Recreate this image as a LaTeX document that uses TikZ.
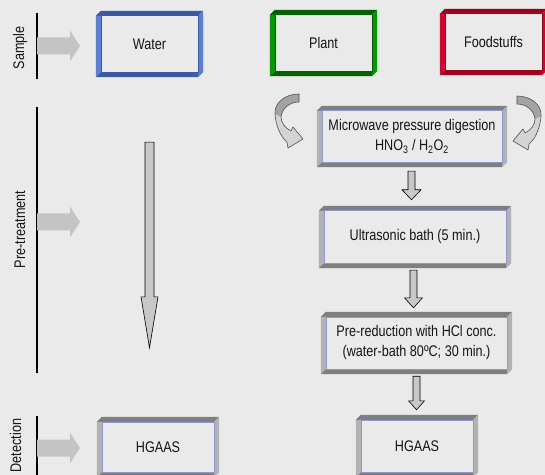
\documentclass[tikz,border=0pt]{standalone}
\usepackage{fontspec}
\setmainfont{Liberation Sans}[FakeStretch=0.82]
\usetikzlibrary{calc}
\definecolor{bg}{HTML}{EAEAEA}
\definecolor{txt}{HTML}{141414}
\definecolor{bluedark}{HTML}{3C5AA2}
\definecolor{bluelight}{HTML}{5A7FDA}
\definecolor{greendark}{HTML}{006200}
\definecolor{greenlight}{HTML}{009A00}
\definecolor{reddark}{HTML}{9E0020}
\definecolor{redlight}{HTML}{DA0030}
\definecolor{graydark}{HTML}{7F7F7F}
\definecolor{graylight}{HTML}{B2B2B2}
\definecolor{faceline}{HTML}{8A9AD0}
\definecolor{sidegray}{HTML}{C4C4C4}
\definecolor{arrfill}{HTML}{C8C8C8}
\definecolor{cvdark}{HTML}{A3A3A3}
\definecolor{cvlight}{HTML}{D4D4D4}
\definecolor{cvline}{HTML}{505050}

\newcommand\bevelbox[4]{% name, dark, light, face line
  \fill[#2] ($(#1.north west)+(0,5)$) -- ($(#1.north west)+(5,0)$) -- (#1.north east) -- ($(#1.north east)+(-5,5)$) -- cycle;
  \fill[#3] ($(#1.north east)+(-5,5)$) -- (#1.north east) -- ($(#1.south east)+(0,-5)$) -- ($(#1.south east)+(-5,0)$) -- cycle;
  \fill[#3] ($(#1.north west)+(0,5)$) -- ($(#1.north west)+(5,5)$) -- ($(#1.south west)+(5,-5)$) -- (#1.south west) -- cycle;
  \fill[#2] (#1.south west) -- ($(#1.south west)+(5,-5)$) -- ($(#1.south east)+(-5,-5)$) -- ($(#1.south east)+(-5,0)$) -- cycle;
  \draw[#4, line width=0.6bp] ($(#1.north west)+(5,5)$) rectangle ($(#1.south east)+(-5,-5)$);
}
\newcommand\blockdown[5]{% start, end, halfshaft, halfhead, headlen
  \draw[fill=arrfill, draw=black, line width=0.6bp, line join=miter] let \p1=#1, \p2=#2 in
   (\x1-#3bp,\y1) -- (\x1+#3bp,\y1) -- (\x1+#3bp,\y2+#5bp) -- (\x1+#4bp,\y2+#5bp)
   -- (\x1,\y2) -- (\x1-#4bp,\y2+#5bp) -- (\x1-#3bp,\y2+#5bp) -- cycle;}
\newcommand\sidearrow[1]{%
  \fill[sidegray] (37,#1-8.5) -- (70,#1-8.5) -- (70,#1-15.5) -- (80,#1)
   -- (70,#1+15.5) -- (70,#1+8.5) -- (37,#1+8.5) -- cycle;}
\newcommand\curvedarrow{%
  \fill[cvlight] (299,94) .. controls (285,94) and (274,103) .. (275,114)
    .. controls (276,126) and (280,136) .. (287,142)
    -- (288,148) -- (303,139) -- (293,127) -- (291,131)
    .. controls (285,128) and (281,123) .. (281,117)
    .. controls (282,108) and (290,102) .. (299,102) -- cycle;
  \fill[cvdark] (299,94) .. controls (285,94) and (274,103) .. (275,114)
    -- (281,117) .. controls (282,108) and (290,102) .. (299,102) -- cycle;
  \draw[cvline, line width=0.6bp] (299,94) .. controls (285,94) and (274,103) .. (275,114)
    .. controls (276,126) and (280,136) .. (287,142)
    -- (288,148) -- (303,139) -- (293,127) -- (291,131)
    .. controls (285,128) and (281,123) .. (281,117)
    .. controls (282,108) and (290,102) .. (299,102) -- cycle;}

\begin{document}
\begin{tikzpicture}[x=1bp,y=-1bp,
  lbl/.style={font=\fontsize{15.4bp}{20bp}\selectfont, text=txt, inner sep=0pt},
  box/.style={lbl, align=center, minimum width=107bp, minimum height=66bp},
  sepline/.style={draw=black, line width=1.8bp}]
\useasboundingbox (0,0) rectangle (545,475);
\fill[bg] (0,0) rectangle (545,475);
\clip (0,0) rectangle (545,475);

% stage labels and separators
\node[lbl, rotate=90, anchor=base] (lsample) at (24,48) {Sample};
\node[lbl, rotate=90, anchor=base] (lpre) at (25,229.5) {Pre-treatment};
\node[lbl, rotate=90, anchor=base] (ldet) at (21,445.5) {Detection};
\draw[sepline] (37,13) -- (37,79);
\draw[sepline] (37,107) -- (37,373);
\draw[sepline] (37,416) -- (37,476);
\sidearrow{46}
\sidearrow{222}
\sidearrow{448}

% sample boxes
\node[box] (water) at (149.5,44) {Water};
\node[box] (plant) at (323.5,43) {Plant};
\node[box] (food) at (493.5,42) {Foodstuffs};
\bevelbox{water}{bluedark}{bluelight}{bluedark}
\bevelbox{plant}{greendark}{greenlight}{greendark}
\bevelbox{food}{reddark}{redlight}{reddark}

% pre-treatment boxes
\node[box, minimum width=190bp, minimum height=61bp] (mw) at (412,136.5)
  {Microwave pressure digestion\\HNO\textsubscript{3} / H\textsubscript{2}O\textsubscript{2}};
\node[box, minimum width=192bp, minimum height=62bp] (us) at (415,237) {Ultrasonic bath (5 min.)};
\node[box, minimum width=191bp, minimum height=62bp] (pr) at (416.5,343)
  {Pre-reduction with HCl conc.\\(water-bath 80ºC; 30 min.)};
\bevelbox{mw}{graydark}{graylight}{faceline}
\bevelbox{us}{graydark}{graylight}{faceline}
\bevelbox{pr}{graydark}{graylight}{faceline}

% detection boxes
\node[box, minimum width=122bp, minimum height=60bp] (hg1) at (158,447) {HGAAS};
\node[box, minimum width=122bp, minimum height=62bp] (hg2) at (417,446) {HGAAS};
\bevelbox{hg1}{graydark}{graylight}{faceline}
\bevelbox{hg2}{graydark}{graylight}{faceline}

% flow arrows
\blockdown{($(mw.south)+(-0.5,4)$)}{($(us.north)+(0,-6)$)}{3.5}{9.5}{10}
\blockdown{($(us.south)+(-1.5,2)$)}{($(pr.north)+(0,-4)$)}{3.5}{9}{10}
\blockdown{($(pr.south)+(0,2)$)}{($(hg2.north)+(0,-5)$)}{3.5}{8}{9}
\coordinate (lt) at ($(water.south)+(0,65)$);
\coordinate (lb) at ($(hg1.north)+(0,-69)$);
\blockdown{(lt)}{(lb)}{4.5}{8.5}{51}

% curved arrows into the digestion box
\curvedarrow
\begin{scope}[shift={(816,2)}, xscale=-1]
\curvedarrow
\end{scope}
\end{tikzpicture}
\end{document}
